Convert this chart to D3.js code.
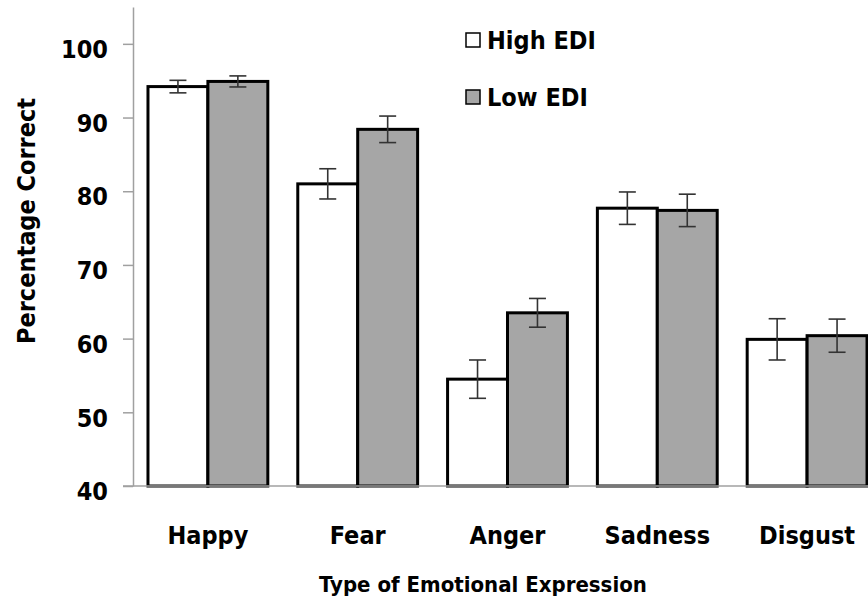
<!DOCTYPE html>
<html>
<head>
<meta charset="utf-8">
<script src="https://cdn.jsdelivr.net/npm/d3@7"></script>
<style>
  html, body { margin: 0; padding: 0; background: #fff; }
  svg { display: block; font-family: "DejaVu Sans Condensed", "DejaVu Sans", sans-serif; font-stretch: condensed; font-weight: bold; }
  svg text { font-family: "DejaVu Sans Condensed", "DejaVu Sans", sans-serif; font-stretch: condensed; font-weight: bold; fill: #000; }
</style>
</head>
<body>
<svg id="chart" width="868" height="609"></svg>
<script>
const categories = ["Happy", "Fear", "Anger", "Sadness", "Disgust"];
const seriesNames = ["High EDI", "Low EDI"];
const highEDI = [94.2, 81.0, 54.5, 77.7, 59.9];
const highEDIErr = [0.85, 2.05, 2.6, 2.2, 2.8];
const lowEDI = [94.9, 88.4, 63.5, 77.4, 60.4];
const lowEDIErr = [0.75, 1.8, 1.95, 2.2, 2.25];
const yTicks = [40, 50, 60, 70, 80, 90, 100];

(function () {
const fills = ["#ffffff", "#a6a6a6"];
const svg = d3.select("#chart");

const pLeft = 133, pRight = 882, pTop = 7, pBottom = 486;

const y = d3.scaleLinear().domain([40, 105]).range([pBottom, pTop]);
const x0 = d3.scaleBand().domain(categories).range([pLeft, pRight]).paddingInner(0.2).paddingOuter(0.1);
const x1 = d3.scaleBand().domain(seriesNames).range([0, x0.bandwidth()]);

const data = categories.map((c, i) => ({
  cat: c,
  vals: [
    { s: seriesNames[0], v: highEDI[i], e: highEDIErr[i] },
    { s: seriesNames[1], v: lowEDI[i], e: lowEDIErr[i] }
  ]
}));

// Y axis
const yAxis = svg.append("g")
  .attr("transform", `translate(${pLeft},0)`)
  .call(d3.axisLeft(y).tickValues(yTicks).tickSize(10).tickPadding(15).tickSizeOuter(0));
yAxis.attr("font-family", null).attr("font-size", null);
yAxis.select(".domain").attr("stroke", "#a0a0a0").attr("stroke-width", 1.5);
yAxis.selectAll(".tick line").attr("stroke", "#a0a0a0").attr("stroke-width", 1.5);
yAxis.selectAll(".tick text").style("font-size", "25px").attr("dy", "0.55em");

// Bars
const groups = svg.append("g").selectAll("g").data(data).join("g")
  .attr("transform", d => `translate(${x0(d.cat)},0)`);

groups.selectAll("rect").data(d => d.vals).join("rect")
  .attr("x", d => x1(d.s))
  .attr("y", d => y(d.v))
  .attr("width", x1.bandwidth())
  .attr("height", d => y(40) - y(d.v))
  .attr("fill", (d, i) => fills[i])
  .attr("stroke", "#000")
  .attr("stroke-width", 3);

// Error bars
const capW = 17;
const eb = groups.selectAll("g.err").data(d => d.vals).join("g").attr("class", "err");
eb.append("line")
  .attr("x1", d => x1(d.s) + x1.bandwidth() / 2)
  .attr("x2", d => x1(d.s) + x1.bandwidth() / 2)
  .attr("y1", d => y(d.v + d.e)).attr("y2", d => y(d.v - d.e));
eb.append("line")
  .attr("x1", d => x1(d.s) + x1.bandwidth() / 2 - capW / 2)
  .attr("x2", d => x1(d.s) + x1.bandwidth() / 2 + capW / 2)
  .attr("y1", d => y(d.v + d.e)).attr("y2", d => y(d.v + d.e));
eb.append("line")
  .attr("x1", d => x1(d.s) + x1.bandwidth() / 2 - capW / 2)
  .attr("x2", d => x1(d.s) + x1.bandwidth() / 2 + capW / 2)
  .attr("y1", d => y(d.v - d.e)).attr("y2", d => y(d.v - d.e));
eb.selectAll("line").attr("stroke", "#333").attr("stroke-width", 1.6);

// X axis
const xAxis = svg.append("g")
  .attr("transform", `translate(0,${pBottom})`)
  .call(d3.axisBottom(x0).tickSize(0).tickPadding(58).tickSizeOuter(0));
xAxis.attr("font-family", null).attr("font-size", null);
xAxis.select(".domain").attr("stroke", "#a0a0a0").attr("stroke-width", 1.5)
  .attr("d", `M${pLeft - 10},0H868`);
xAxis.selectAll(".tick text").style("font-size", "25px").attr("dy", 0);

// Axis titles
svg.append("text")
  .attr("x", 483).attr("y", 592)
  .attr("text-anchor", "middle")
  .style("font-size", "22px")
  .text("Type of Emotional Expression");

svg.append("text")
  .attr("transform", "translate(35,221) rotate(-90)")
  .attr("text-anchor", "middle")
  .style("font-size", "25px")
  .text("Percentage Correct");

// Legend
const legend = svg.append("g").selectAll("g").data(seriesNames).join("g")
  .attr("transform", (d, i) => `translate(466,${33 + i * 57})`);
legend.append("rect")
  .attr("width", 14).attr("height", 14)
  .attr("fill", (d, i) => fills[i])
  .attr("stroke", "#000").attr("stroke-width", 1.5);
legend.append("text")
  .attr("x", 21).attr("y", 16)
  .style("font-size", "25px")
  .text(d => d);
})();
</script>
</body>
</html>
